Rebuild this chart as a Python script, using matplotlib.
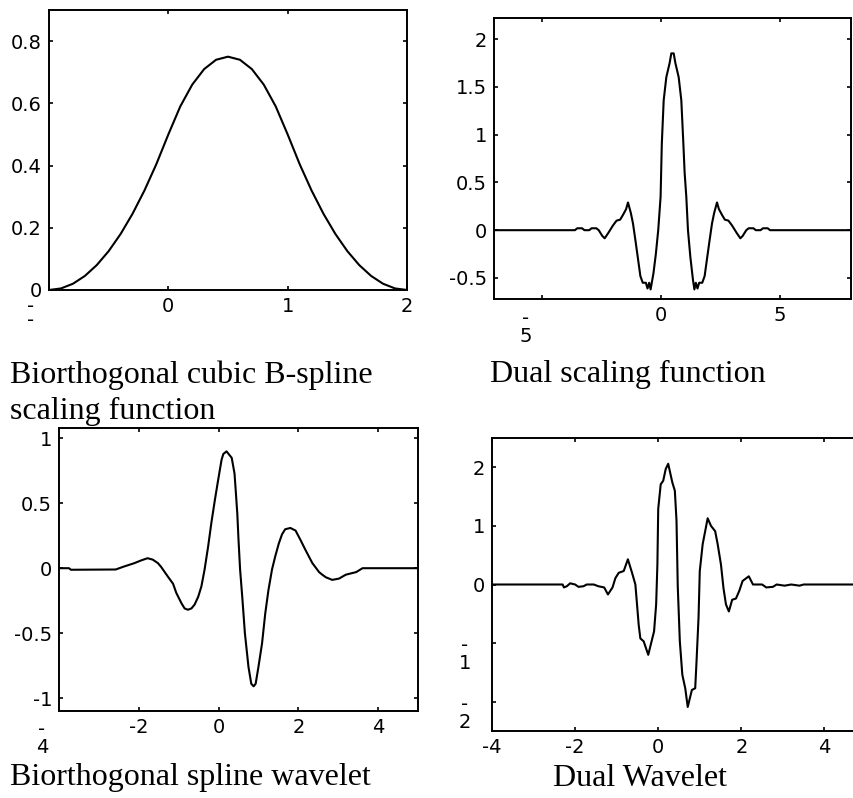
import matplotlib
matplotlib.use("Agg")
import matplotlib.pyplot as plt

W, H = 854, 798

# biorthogonal B-spline scaling function
phi_x = [-1.0, -0.9, -0.8, -0.7, -0.6, -0.5, -0.4, -0.3, -0.2, -0.1, 0.0,
         0.1, 0.2, 0.3, 0.4, 0.5, 0.6, 0.7, 0.8, 0.9, 1.0,
         1.1, 1.2, 1.3, 1.4, 1.5, 1.6, 1.7, 1.8, 1.9, 2.0]
phi_y = [0.0, 0.005, 0.02, 0.045, 0.08, 0.125, 0.18, 0.245, 0.32, 0.405, 0.5,
         0.59, 0.66, 0.71, 0.74, 0.75, 0.74, 0.71, 0.66, 0.59, 0.5,
         0.405, 0.32, 0.245, 0.18, 0.125, 0.08, 0.045, 0.02, 0.005, 0.0]

# dual scaling function
dphi_x = [-7.0, -3.6, -3.5, -3.3, -3.2, -3.0, -2.9, -2.7, -2.6, -2.45, -2.35, -2.2,
          -2.0, -1.85, -1.7, -1.58, -1.45, -1.37, -1.25, -1.16, -1.05, -0.95, -0.85,
          -0.75, -0.62, -0.55, -0.48, -0.42, -0.3, -0.2, -0.1, 0.0, 0.05, 0.13, 0.24,
          0.38, 0.45, 0.55, 0.62, 0.76, 0.87, 0.95, 1.01, 1.08, 1.15, 1.25, 1.36,
          1.42, 1.48, 1.55, 1.62, 1.75, 1.85, 1.95, 2.05, 2.16, 2.25, 2.37, 2.45,
          2.58, 2.7, 2.85, 3.0, 3.2, 3.35, 3.45, 3.6, 3.7, 3.9, 4.0, 4.2, 4.3, 4.5,
          4.6, 8.0]
dphi_y = [0.0, 0.0, 0.02, 0.02, 0.0, 0.0, 0.02, 0.02, 0.0, -0.06, -0.085, -0.03,
          0.05, 0.1, 0.11, 0.16, 0.22, 0.29, 0.18, 0.07, -0.12, -0.3, -0.48,
          -0.55, -0.55, -0.61, -0.55, -0.62, -0.45, -0.25, 0.0, 0.35, 0.9, 1.36, 1.6,
          1.75, 1.85, 1.85, 1.75, 1.6, 1.36, 0.94, 0.6, 0.35, 0.0, -0.28, -0.52,
          -0.62, -0.55, -0.61, -0.55, -0.55, -0.48, -0.3, -0.12, 0.07, 0.18, 0.29, 0.22,
          0.16, 0.11, 0.1, 0.05, -0.03, -0.085, -0.06, 0.0, 0.02, 0.02, 0.0, 0.0, 0.02, 0.02,
          0.0, 0.0]

# biorthogonal spline wavelet
psi_x = [-4.0, -3.75, -3.7, -2.58, -2.37, -2.11, -1.94, -1.78, -1.65, -1.52, -1.44,
         -1.27, -1.14, -1.06, -0.93, -0.85, -0.77, -0.68, -0.6, -0.51, -0.43, -0.35,
         -0.26, -0.18, -0.09, -0.01, 0.076, 0.12, 0.2, 0.33, 0.4, 0.43, 0.47, 0.5,
         0.54, 0.6, 0.66, 0.75, 0.82, 0.88, 0.93, 1.0, 1.09, 1.17, 1.25, 1.34, 1.42,
         1.51, 1.59, 1.67, 1.8, 1.93, 2.05, 2.18, 2.35, 2.52, 2.6, 2.69, 2.85, 3.02,
         3.19, 3.45, 3.61, 5.0]
psi_y = [0.0, 0.0, -0.012, -0.01, 0.013, 0.039, 0.06, 0.077, 0.066, 0.039, 0.01,
         -0.065, -0.12, -0.19, -0.27, -0.31, -0.32, -0.31, -0.28, -0.22, -0.14, -0.01,
         0.17, 0.35, 0.53, 0.68, 0.836, 0.88, 0.9, 0.85, 0.73, 0.6, 0.42, 0.22,
         -0.01, -0.245, -0.5, -0.76, -0.89, -0.91, -0.89, -0.76, -0.58, -0.35, -0.17, -0.01, 0.09,
         0.19, 0.26, 0.3, 0.31, 0.29, 0.22, 0.14, 0.04, -0.03, -0.05, -0.07, -0.09, -0.08,
         -0.05, -0.03, 0.0, 0.0]

# dual wavelet
dpsi_x = [-4.0, -2.3, -2.27, -2.2, -2.12, -2.0, -1.92, -1.8, -1.72, -1.55, -1.44,
          -1.3, -1.21, -1.1, -1.03, -0.95, -0.83, -0.73, -0.63, -0.55, -0.51, -0.47,
          -0.43, -0.35, -0.24, -0.16, -0.1, -0.05, -0.02, 0.0, 0.06, 0.12, 0.18, 0.24,
          0.34, 0.4, 0.44, 0.47, 0.52, 0.58, 0.65, 0.71, 0.81, 0.89, 0.92, 0.97, 1.0,
          1.07, 1.13, 1.19, 1.27, 1.37, 1.43, 1.51, 1.57, 1.63, 1.7, 1.78, 1.87, 1.95,
          2.03, 2.18, 2.28, 2.5, 2.6, 2.76, 2.85, 3.04, 3.2, 3.4, 3.5, 5.0]
dpsi_y = [0.0, 0.0, -0.05, -0.03, 0.02, 0.0, -0.04, -0.03, 0.0, 0.0, -0.03,
          -0.05, -0.17, -0.05, 0.11, 0.2, 0.23, 0.43, 0.2, 0.0, -0.34, -0.69,
          -0.92, -0.97, -1.2, -0.97, -0.8, -0.34, 0.34, 1.29, 1.71, 1.77, 1.97, 2.06,
          1.74, 1.6, 1.09, -0.03, -0.97, -1.54, -1.77, -2.09, -1.8, -1.77, -1.34, -0.57, 0.23,
          0.69, 0.91, 1.13, 1.0, 0.91, 0.69, 0.34, -0.06, -0.34, -0.46, -0.26, -0.24, -0.11,
          0.06, 0.14, 0.0, 0.0, -0.05, -0.04, 0.0, -0.02, 0.0, -0.02, 0.0, 0.0]

captions = [("Biorthogonal cubic B-spline", 10, 383),
            ("scaling function", 10, 419),
            ("Dual scaling function", 490, 382),
            ("Biorthogonal spline wavelet", 10, 785),
            ("Dual Wavelet", 553, 786)]

TICK_FS = 14


def add_axes_px(fig, left, top, right, bottom):
    return fig.add_axes([left / W, 1 - bottom / H, (right - left) / W, (bottom - top) / H])


def style(ax):
    for s in ax.spines.values():
        s.set_linewidth(1.4)
    ax.tick_params(direction="in", top=True, right=True, length=3, width=1.2,
                   labelsize=TICK_FS, pad=5)


def split_label(ax, text, xy, coords, dx, dy, va):
    ax.annotate(text, xy=xy, xycoords=coords, xytext=(dx, dy), textcoords="offset pixels",
                ha="center", va=va, fontsize=TICK_FS, linespacing=0.95, annotation_clip=False)


fig = plt.figure(figsize=(W / 100, H / 100), dpi=100)

ax1 = add_axes_px(fig, 49, 10, 407, 290)
ax1.plot(phi_x, phi_y, color="black", linewidth=1.5)
ax1.set_xlim(-1, 2)
ax1.set_ylim(0, 0.9)
ax1.set_xticks([-1, 0, 1, 2], ["", "0", "1", "2"])
ax1.set_yticks([0, 0.2, 0.4, 0.6, 0.8], ["0", "0.2", "0.4", "0.6", "0.8"])
style(ax1)
# the clipped "-1" label at the lower left corner
fig.text(31 / W, 1 - 297 / H, "-\n-", fontsize=TICK_FS, ha="center", va="top", linespacing=0.7)

ax2 = add_axes_px(fig, 494, 18, 851, 299)
ax2.plot(dphi_x, dphi_y, color="black", linewidth=1.5)
ax2.set_xlim(-7, 8)
ax2.set_ylim(-0.72, 2.22)
ax2.set_xticks([-5, 0, 5], ["", "0", "5"])
ax2.set_yticks([-0.5, 0, 0.5, 1, 1.5, 2], ["-0.5", "0", "0.5", "1", "1.5", "2"])
style(ax2)
split_label(ax2, "-\n5", (-5, 0), ("data", "axes fraction"), -16, -10, "top")

ax3 = add_axes_px(fig, 59, 428, 418, 711)
ax3.plot(psi_x, psi_y, color="black", linewidth=1.5)
ax3.set_xlim(-4, 5)
ax3.set_ylim(-1.1, 1.08)
ax3.set_xticks([-4, -2, 0, 2, 4], ["", "-2", "0", "2", "4"])
ax3.set_yticks([-1, -0.5, 0, 0.5, 1], ["-1", "-0.5", "0", "0.5", "1"])
style(ax3)
split_label(ax3, "-\n4", (-4, 0), ("data", "axes fraction"), -17, -9, "top")

ax4 = add_axes_px(fig, 492, 438, 866, 731)
ax4.plot(dpsi_x, dpsi_y, color="black", linewidth=1.5)
ax4.set_xlim(-4, 5)
ax4.set_ylim(-2.5, 2.5)
ax4.set_xticks([-4, -2, 0, 2, 4], ["-4", "-2", "0", "2", "4"])
ax4.set_yticks([-2, -1, 0, 1, 2], ["", "", "0", "1", "2"])
style(ax4)
split_label(ax4, "-\n1", (0, -1), ("axes fraction", "data"), -27, 7, "top")
split_label(ax4, "-\n2", (0, -2), ("axes fraction", "data"), -27, 7, "top")

for text, x, y in captions:
    fig.text(x / W, 1 - y / H, text, fontsize=23, family="Liberation Serif", va="baseline")

fig.savefig("out.png", dpi=100)
